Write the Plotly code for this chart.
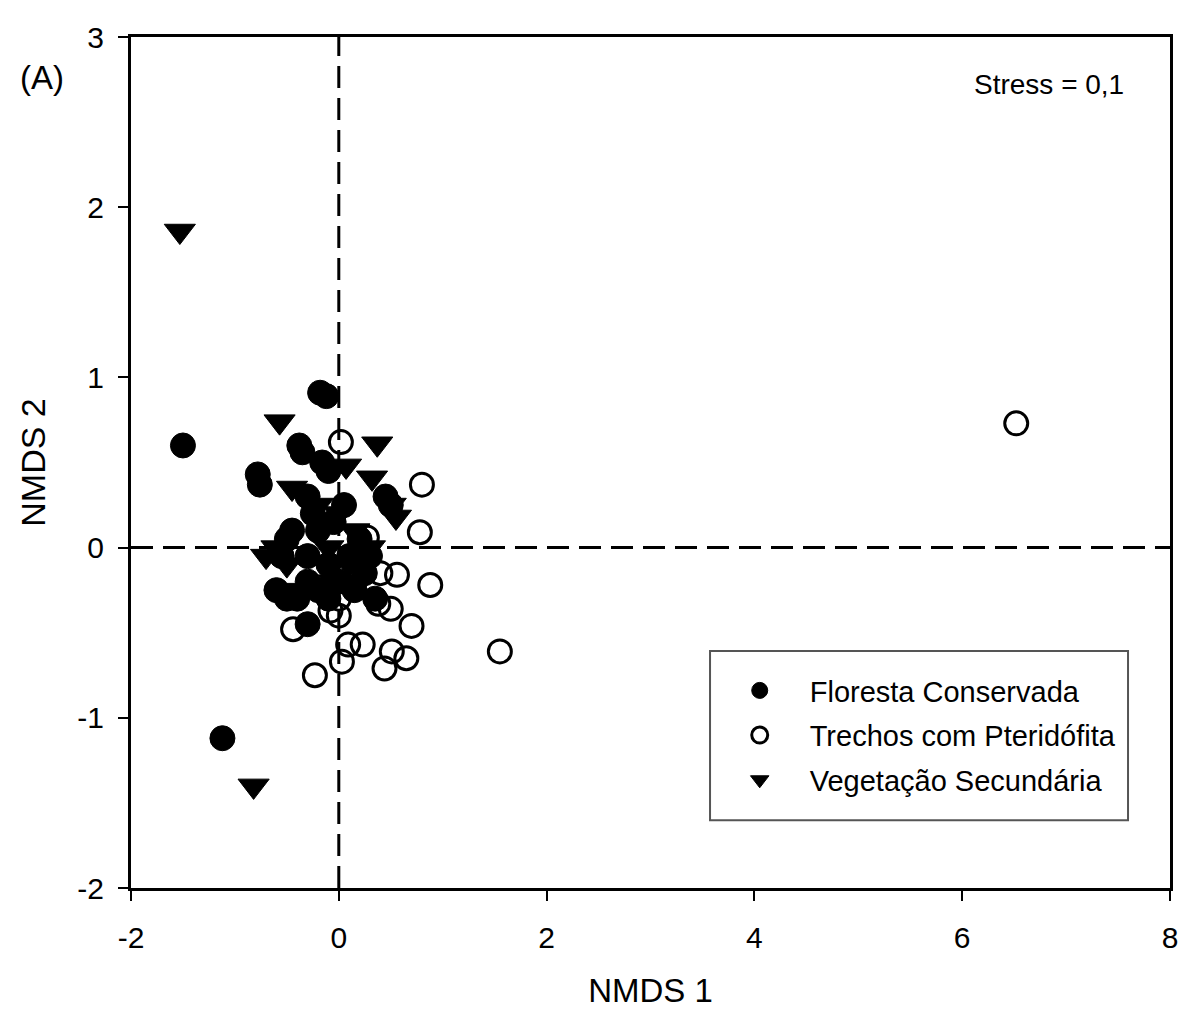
import plotly.graph_objects as go

# Floresta Conservada (filled circles)
fc_x = [-1.50, -1.12, -0.78, -0.76, -0.18, -0.12, -0.38, -0.35, -0.16, -0.10, 0.45, 0.50,
        -0.30, -0.25, -0.20, -0.45, -0.50, -0.55, -0.30, -0.10, 0.10, 0.20, 0.30, -0.60,
        -0.50, -0.30, -0.20, 0.00, 0.15, 0.25, -0.30, -0.10, 0.35, -0.40, -0.05, 0.05]
fc_y = [0.60, -1.12, 0.43, 0.37, 0.91, 0.89, 0.60, 0.56, 0.50, 0.45, 0.30, 0.25,
        0.30, 0.20, 0.10, 0.10, 0.05, -0.05, -0.05, -0.10, -0.05, 0.05, -0.05, -0.25,
        -0.30, -0.20, -0.25, -0.20, -0.25, -0.15, -0.45, -0.30, -0.30, -0.30, 0.15, 0.25]

# Trechos com Pteridófita (open circles)
tp_x = [6.52, 1.55, 0.02, 0.80, 0.78, 0.88, 0.56, 0.40, 0.50, 0.38, 0.70, -0.44, -0.23,
        0.03, 0.09, 0.23, 0.51, 0.65, 0.44, -0.08, 0.00, 0.27, 0.00]
tp_y = [0.73, -0.61, 0.62, 0.37, 0.09, -0.22, -0.16, -0.15, -0.36, -0.33, -0.46, -0.48, -0.75,
        -0.67, -0.57, -0.57, -0.61, -0.65, -0.71, -0.37, -0.40, 0.06, -0.30]

# Vegetação Secundária (filled triangles down)
vs_x = [-1.53, -0.82, -0.57, 0.37, 0.07, 0.32, 0.50, 0.55, -0.45, -0.60, -0.50, -0.20,
        0.00, -0.10, 0.10, 0.20, -0.35, -0.05, 0.30, -0.70, 0.15]
vs_y = [1.86, -1.40, 0.74, 0.61, 0.48, 0.41, 0.25, 0.18, 0.35, 0.00, -0.10, 0.25,
        0.20, 0.00, -0.10, -0.20, -0.25, -0.20, 0.00, -0.05, 0.10]

labels = ["Floresta Conservada", "Trechos com Pteridófita", "Vegetação Secundária"]

x_ticks = [-2, 0, 2, 4, 6, 8]
x_ticktext = ["-2", "0", "2", "4", "6", "8"]
y_ticks = [-2, -1, 0, 1, 2, 3]
y_ticktext = ["-2", "-1", "0", "1", "2", "3"]

FONT = "Liberation Sans, Arial, sans-serif"

fig = go.Figure()
fig.add_trace(go.Scatter(x=fc_x, y=fc_y, mode="markers", name=labels[0], legendgroup="a",
                         marker=dict(symbol="circle", size=25, color="black",
                                     line=dict(color="black", width=1))))
fig.add_trace(go.Scatter(x=tp_x, y=tp_y, mode="markers", name=labels[1], legendgroup="b",
                         marker=dict(symbol="circle-open", size=23, color="black",
                                     line=dict(color="black", width=3))))
fig.add_trace(go.Scatter(x=vs_x, y=vs_y, mode="markers", name=labels[2], legendgroup="c",
                         marker=dict(symbol="triangle-down", size=27, color="black",
                                     line=dict(color="black", width=1))))

# dashed reference lines
fig.add_shape(type="line", xref="x", yref="paper", x0=0, x1=0, y0=0, y1=1,
              line=dict(color="black", width=3, dash="22px,10px"), layer="below")
fig.add_shape(type="line", xref="paper", yref="y", x0=0, x1=1, y0=0, y1=0,
              line=dict(color="black", width=3, dash="22px,10px"), layer="below")

# legend frame
fig.add_shape(type="rect", xref="paper", yref="paper", x0=0.5573, x1=0.9596,
              y0=0.0795, y1=0.2784, line=dict(color="#555555", width=2),
              fillcolor="white", layer="below")

fig.add_annotation(text="(A)", xref="paper", yref="paper", x=-0.086, y=0.952,
                   xanchor="center", yanchor="middle", showarrow=False,
                   font=dict(family=FONT, size=33, color="black"))
fig.add_annotation(text="Stress = 0,1", xref="paper", yref="paper", x=0.884, y=0.944,
                   xanchor="center", yanchor="middle", showarrow=False,
                   font=dict(family=FONT, size=28, color="black"))

axis_common = dict(showline=True, linecolor="black", linewidth=3, mirror=True,
                   ticks="outside", ticklen=10, tickwidth=2, tickcolor="black",
                   showgrid=False, zeroline=False,
                   tickfont=dict(family=FONT, size=30, color="black"))

fig.update_layout(
    width=1194, height=1015,
    margin=dict(l=123, r=32, t=25, b=135),
    plot_bgcolor="white", paper_bgcolor="white",
    xaxis=dict(range=[-2, 8], tickvals=x_ticks, ticktext=x_ticktext,
               ticklabelstandoff=11,
               title=dict(text="NMDS 1", font=dict(family=FONT, size=33, color="black"),
                          standoff=26),
               **axis_common),
    yaxis=dict(range=[-2, 3], tickvals=y_ticks, ticktext=y_ticktext,
               ticklabelstandoff=8,
               title=dict(text="NMDS 2", font=dict(family=FONT, size=34, color="black"),
                          standoff=22),
               **axis_common),
    legend=dict(x=0.557, y=0.262, xanchor="left", yanchor="top",
                borderwidth=0, bgcolor="rgba(0,0,0,0)",
                font=dict(family=FONT, size=29, color="black"),
                tracegroupgap=4, itemwidth=90),
    showlegend=True,
)

fig.write_html("out.html")
